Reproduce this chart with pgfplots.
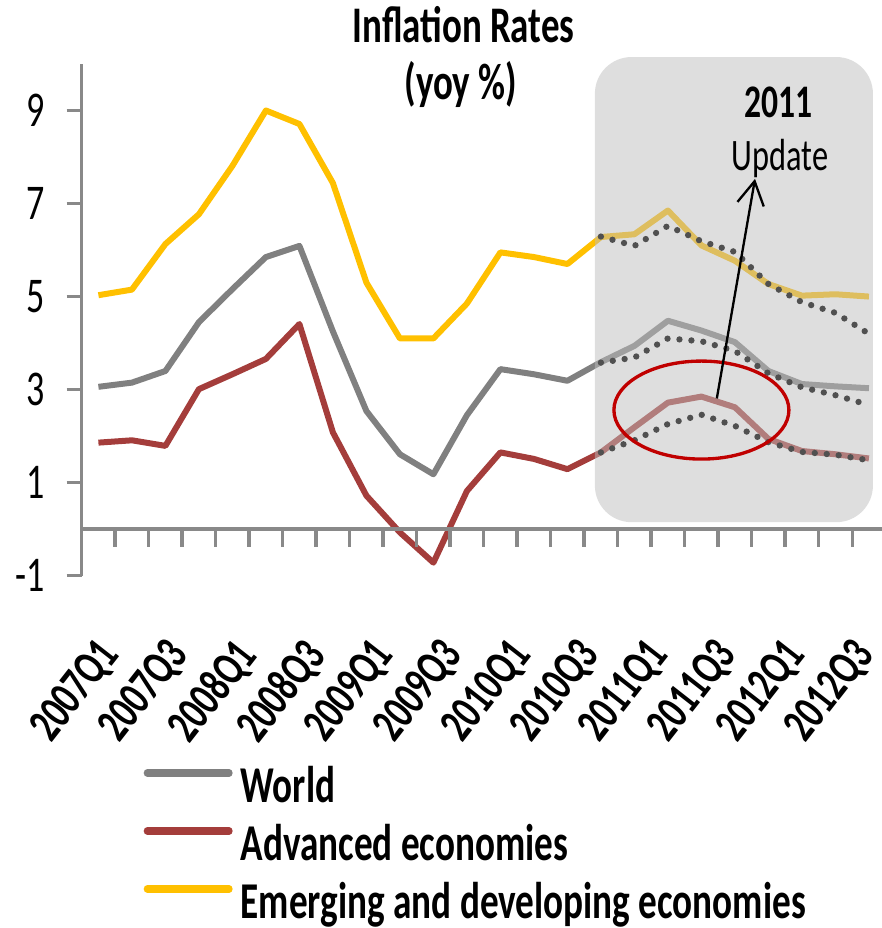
\documentclass[border=0pt]{standalone}
\usepackage{fontspec}
\setmainfont{Carlito}[FakeStretch=0.72]
\usepackage{pgfplots}
\usepackage{pgfplotstable}
\pgfplotsset{compat=1.18}
\usetikzlibrary{arrows.meta}

\definecolor{grayc}{HTML}{808080}
\definecolor{redc}{HTML}{A43D3B}
\definecolor{yellowc}{HTML}{FFC000}
\definecolor{dotc}{HTML}{505050}
\definecolor{boxc}{HTML}{BEBEBE}
\definecolor{ellc}{HTML}{C00000}
\definecolor{axgray}{HTML}{898989}

% quarterly inflation, 2007Q1 = 0 ... 2012Q4 = 23
\pgfplotstableread{
i  world  adv    emg
0  3.06   1.86   5.03
1  3.15   1.91   5.15
2  3.40   1.79   6.13
3  4.45   3.01   6.77
4  5.16   3.33   7.81
5  5.85   3.66   9.00
6  6.09   4.41   8.71
7  4.25   2.08   7.44
8  2.54   0.72   5.30
9  1.61  -0.07   4.10
10 1.18  -0.72   4.10
11 2.45   0.82   4.85
12 3.44   1.65   5.95
13 3.33   1.51   5.85
14 3.19   1.29   5.70
15 3.59   1.65   6.28
16 3.94   2.19   6.34
17 4.48   2.72   6.85
18 4.27   2.85   6.10
19 4.02   2.62   5.77
20 3.40   1.94   5.27
21 3.12   1.68   5.02
22 3.07   1.61   5.05
23 3.03   1.52   5.00
}\tblmain

% earlier projections (dotted)
\pgfplotstableread{
i  world  adv    emg
15 3.58   1.65   6.29
16 3.69   1.91   6.09
17 4.10   2.26   6.52
18 4.04   2.46   6.19
19 3.83   2.22   5.96
20 3.35   1.87   5.27
21 3.05   1.66   4.88
22 2.88   1.60   4.65
23 2.67   1.48   4.20
}\tblold

\begin{document}
\begin{tikzpicture}
\begin{axis}[
  scale only axis,
  width=241.2pt, height=153.5pt,
  xmin=-0.5, xmax=23.5, ymin=-1, ymax=10,
  clip=false,
  axis lines*=left,
  x axis line style={draw=none},
  y axis line style={axgray, line width=1pt},
  ytick={-1,1,3,5,7,9},
  ytick style={axgray, line width=1pt},
  major tick length=4.5pt,
  tick align=outside,
  /pgf/number format/assume math mode=true,
  xtick={0.35,2.40,4.44,6.49,8.54,10.59,12.64,14.68,16.73,18.78,20.83,22.88},
  xticklabels={2007Q1,2007Q3,2008Q1,2008Q3,2009Q1,2009Q3,2010Q1,2010Q3,2011Q1,2011Q3,2012Q1,2012Q3},
  xtick style={draw=none},
  xticklabel style={xshift=-4.5pt, yshift=-13.2pt, rotate=52, anchor=north east, inner sep=0pt,
    font=\bfseries\fontsize{14.5}{17}\selectfont},
  yticklabel style={font=\fontsize{15}{18}\selectfont, inner sep=0pt,
    anchor=east, xshift=-6.5pt},
  legend style={at={(axis description cs:0.0763,-0.370)}, anchor=north west,
    draw=none, fill=none, inner sep=0pt, row sep=2.4pt,
    font=\bfseries\fontsize{15.5}{18}\selectfont,
    nodes={inner sep=0pt, text height=11pt, text depth=4pt},
    /tikz/every odd column/.append style={column sep=2.4pt}},
  legend cell align=left,
  legend image code/.code={\draw[#1, line width=2.2pt, line cap=round] (1.1pt,5.3pt) -- (25.6pt,5.3pt);},
]
\addplot[grayc, line width=1.8pt, line join=round] table[x=i, y=world] {\tblmain};
\addplot[redc, line width=1.8pt, line join=round] table[x=i, y=adv] {\tblmain};
\addplot[yellowc, line width=1.8pt, line join=round] table[x=i, y=emg] {\tblmain};
\legend{World, Advanced economies, Emerging and developing economies}

% x axis at zero with hanging ticks
\draw[axgray, line width=1pt] (axis cs:-0.5,0) -- (axis cs:23.5,0);
\pgfplotsinvokeforeach{0.5,1.5,...,23.5}{
  \draw[axgray, line width=1pt] (axis cs:#1,0) -- ++(0pt,-5.3pt);
}

% shaded 2011 update area
\fill[boxc, fill opacity=0.5, rounded corners=11pt] (axis cs:14.82,0.15) rectangle (axis cs:23.12,10.15);

\addplot[dotc, line width=1.9pt, line cap=round, dash pattern=on 0pt off 3.6pt, forget plot] table[x=i, y=world] {\tblold};
\addplot[dotc, line width=1.9pt, line cap=round, dash pattern=on 0pt off 3.6pt, forget plot] table[x=i, y=adv] {\tblold};
\addplot[dotc, line width=1.9pt, line cap=round, dash pattern=on 0pt off 3.6pt, forget plot] table[x=i, y=emg] {\tblold};

\draw[ellc, line width=1pt] (axis cs:18,2.56) ellipse [x radius=26.25pt, y radius=14.7pt];
\draw[black, line width=0.7pt, -{Straight Barb[length=7pt, width=8pt]}] (axis cs:18.46,2.81) -- (axis cs:19.6,7.53);

\node[anchor=base, inner sep=0pt, font=\bfseries\fontsize{14}{16}\selectfont] at (axis cs:20.29,8.86) {2011};
\node[anchor=base, inner sep=0pt, font=\fontsize{13.5}{16}\selectfont] at (axis cs:20.34,7.7) {Update};

\node[anchor=base, inner sep=0pt, font=\bfseries\fontsize{15.4}{18}\selectfont] at (axis cs:10.9,10.47) {Inflation Rates};
\node[anchor=base, inner sep=0pt, font=\bfseries\fontsize{15.4}{18}\selectfont] at (axis cs:10.82,9.23) {(yoy \%)};
\end{axis}
\pgfresetboundingbox
\useasboundingbox (-24.5pt,-105.7pt) rectangle (240.1pt,172.7pt);
\end{tikzpicture}
\end{document}
